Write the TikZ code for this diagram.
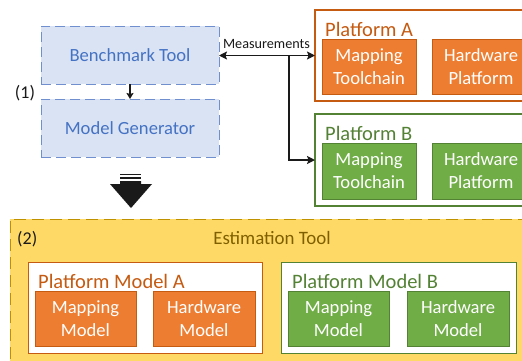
\documentclass[tikz,border=0pt]{standalone}
\usepackage{fontspec}
\setmainfont{Carlito}
\usetikzlibrary{arrows.meta}
\definecolor{bluefill}{HTML}{DAE3F3}
\definecolor{blueline}{HTML}{6F8FCF}
\definecolor{bluetext}{HTML}{4472C4}
\definecolor{orangefill}{HTML}{ED7D31}
\definecolor{orangeline}{HTML}{C55A11}
\definecolor{greenfill}{HTML}{70AD47}
\definecolor{greenline}{HTML}{548235}
\definecolor{yellowfill}{HTML}{FFD966}
\definecolor{yellowline}{HTML}{BF9000}
\definecolor{esttext}{HTML}{7F6000}
\definecolor{ink}{HTML}{1A1A1A}
\tikzset{
  base/.style={inner sep=0pt, outer sep=0pt, font=\fontsize{18.6}{23}\selectfont, align=center},
  toolbox/.style={base, draw=blueline, fill=bluefill, text=bluetext, line width=1pt, dash pattern=on 10pt off 5pt},
  orangebox/.style={base, draw=orangeline, fill=orangefill, text=white, line width=0.8pt},
  greenbox/.style={base, draw=greenline, fill=greenfill, text=white, line width=0.8pt},
  outerA/.style={base, draw=orangeline, fill=white, line width=1.2pt},
  outerB/.style={base, draw=greenline, fill=white, line width=1.2pt},
  titlefont/.style={inner sep=0pt, font=\fontsize{20.5}{24}\selectfont},
  conn/.style={draw=ink, line width=1.4pt},
  tip/.style={-{Stealth[length=8pt,width=8pt,inset=1.5pt]}},
}
\begin{document}
\begin{tikzpicture}[x=1pt,y=-1pt]
\useasboundingbox (0,0) rectangle (522,360);
\clip (0,0) rectangle (522,360);
\fill[white] (0,0) rectangle (522,360);

% (1) benchmark and model generator
\node[toolbox, minimum width=178pt, minimum height=58pt] (bench) at (130,55) {Benchmark Tool};
\node[toolbox, minimum width=178pt, minimum height=58pt] (gen) at (130,128) {Model Generator};
\node[inner sep=0pt, anchor=base, font=\fontsize{18}{22}\selectfont, text=ink] (l1) at (25,98) {(1)};
\draw[conn, line width=1.2pt, -{Stealth[length=6pt,width=7pt,inset=1pt]}] (bench.south) -- (gen.north);

% Platform A
\node[outerA, minimum width=220pt, minimum height=91pt] (pa) at (425,55.5) {};
\node[titlefont, anchor=base west, text=orangeline] (pat) at (325,36) {Platform A};
\node[orangebox, minimum width=94pt, minimum height=55pt] (pamap) at (369,66.5) {Mapping\\Toolchain};
\node[orangebox, minimum width=98pt, minimum height=55pt] (pahw) at (481,66.5) {Hardware\\Platform};

% Platform B
\node[outerB, minimum width=220pt, minimum height=92pt] (pb) at (425,160) {};
\node[titlefont, anchor=base west, text=greenline] (pbt) at (325,140.5) {Platform B};
\node[greenbox, minimum width=94pt, minimum height=56pt] (pbmap) at (369,171) {Mapping\\Toolchain};
\node[greenbox, minimum width=98pt, minimum height=56pt] (pbhw) at (481,171) {Hardware\\Platform};

% Measurements connectors
\coordinate (br) at (289,55.5);
\node[inner sep=0pt, anchor=base, font=\fontsize{14.2}{17}\selectfont, text=ink] (meas) at (266.5,48) {Measurements};
\draw[conn, {Stealth[length=8pt,width=8pt,inset=1.5pt]}-{Stealth[length=8pt,width=8pt,inset=1.5pt]}] (bench.east |- br) -- (pa.west |- br);
\draw[conn, tip] (br) |- (pb.west);

% big block arrow
\fill[ink] (120,174) rectangle (141,175.2);
\fill[ink] (120,177) rectangle (141,179.2);
\fill[ink] (120,181) -- (141,181) -- (141,184) -- (152,184) -- (131,208) -- (110,184) -- (120,184) -- cycle;

% (2) Estimation tool
\node[base, draw=yellowline, fill=yellowfill, line width=1pt, dash pattern=on 12pt off 6pt, minimum width=540pt, minimum height=160pt, anchor=north west] (est) at (10,219) {};
\node[inner sep=0pt, anchor=base west, font=\fontsize{18}{22}\selectfont, text=ink] (l2) at (17,244) {(2)};
\node[inner sep=0pt, anchor=base, font=\fontsize{18.9}{22}\selectfont, text=esttext] (estt) at (272,244) {Estimation Tool};

% Platform Model A
\node[outerA, line width=1pt, minimum width=234pt, minimum height=91pt] (pma) at (145,307.5) {};
\node[titlefont, anchor=base west, text=orangeline] (pmat) at (38,288.5) {Platform Model A};
\node[orangebox, minimum width=101pt, minimum height=55pt] (mmA) at (85.5,318.5) {Mapping\\Model};
\node[orangebox, minimum width=102pt, minimum height=55pt] (hmA) at (204,318.5) {Hardware\\Model};

% Platform Model B
\node[outerB, line width=1pt, minimum width=235pt, minimum height=91pt] (pmb) at (398.5,307.5) {};
\node[titlefont, anchor=base west, text=greenline] (pmbt) at (292,288.5) {Platform Model B};
\node[greenbox, minimum width=101pt, minimum height=55pt] (mmB) at (338.5,318.5) {Mapping\\Model};
\node[greenbox, minimum width=102pt, minimum height=55pt] (hmB) at (458,318.5) {Hardware\\Model};
\end{tikzpicture}
\end{document}
